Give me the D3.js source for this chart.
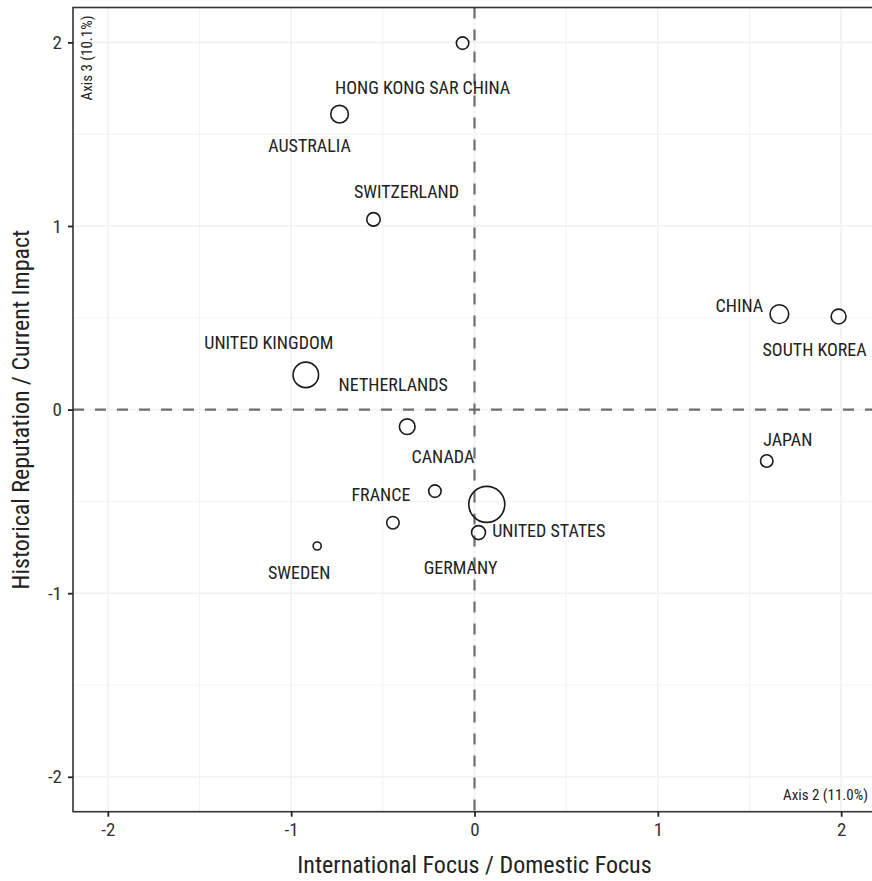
<!DOCTYPE html>
<html>
<head>
<meta charset="utf-8">
<script src="https://cdn.jsdelivr.net/npm/d3@7"></script>
<style>
  body { margin: 0; background: #fff; }
  svg text { font-family: "Roboto Condensed", "Liberation Sans Narrow", "DejaVu Sans Condensed", sans-serif; }
</style>
</head>
<body>
<script>
// country scores on axis 2 / axis 3 and marker weight
var countries = ["HONG KONG SAR CHINA", "AUSTRALIA", "SWITZERLAND", "CHINA", "SOUTH KOREA",
  "UNITED KINGDOM", "NETHERLANDS", "JAPAN", "CANADA", "FRANCE", "UNITED STATES", "GERMANY", "SWEDEN"];
var axis2 = [-0.065, -0.736, -0.551, 1.663, 1.986, -0.920, -0.367, 1.594, -0.216, -0.445, 0.067, 0.022, -0.858];
var axis3 = [1.996, 1.609, 1.036, 0.520, 0.507, 0.189, -0.093, -0.280, -0.444, -0.616, -0.516, -0.670, -0.743];
var weight = [12, 24, 14, 27, 17, 50, 19, 12, 12, 12, 100, 15, 5];
var ticks = [-2, -1, 0, 1, 2];
var gridMinor = [-1.5, -0.5, 0.5, 1.5];

// label nudges in px (dx, dy to baseline)
var nudge = [[-40, 51], [-30, 38], [33, -21], [-40, -2], [-24, 39], [-37, -26],
  [-14, -36], [21, -15], [8, -28], [-12, -22], [62, 33], [-18, 41], [-18, 33]];

var W = 872, H = 881;
var svg = d3.select("body").append("svg").attr("width", W).attr("height", H);

var x = d3.scaleLinear().domain([-2.19, 2.19]).range([73, 876]);
var y = d3.scaleLinear().domain([-2.19, 2.19]).range([811.7, 7.5]);
var r = d3.scaleSqrt().domain([0, 100]).range([0, 18]);

// grid
var grid = svg.append("g");
grid.selectAll(".gx").data(gridMinor.concat(ticks)).enter().append("line")
  .attr("x1", d => x(d)).attr("x2", d => x(d)).attr("y1", y(-2.19)).attr("y2", y(2.19))
  .attr("stroke", "#f1f1f1").attr("stroke-width", d => Number.isInteger(d) ? 1.6 : 0.9);
grid.selectAll(".gy").data(gridMinor.concat(ticks)).enter().append("line")
  .attr("y1", d => y(d)).attr("y2", d => y(d)).attr("x1", x(-2.19)).attr("x2", x(2.19))
  .attr("stroke", "#f1f1f1").attr("stroke-width", d => Number.isInteger(d) ? 1.6 : 0.9);

// reference lines at zero
svg.append("line").attr("x1", x(0)).attr("x2", x(0)).attr("y1", y(2.19)).attr("y2", y(-2.19))
  .attr("stroke", "#6e6e6e").attr("stroke-width", 2.2).attr("stroke-dasharray", "11,11");
svg.append("line").attr("y1", y(0)).attr("y2", y(0)).attr("x1", x(-2.19)).attr("x2", x(2.19))
  .attr("stroke", "#6e6e6e").attr("stroke-width", 2.2).attr("stroke-dasharray", "11,11");

// points
var idx = d3.range(countries.length);
svg.append("g").selectAll("circle").data(idx).enter().append("circle")
  .attr("cx", i => x(axis2[i])).attr("cy", i => y(axis3[i])).attr("r", i => r(weight[i]))
  .attr("fill", "none").attr("stroke", "#1a1a1a").attr("stroke-width", 1.6);

// labels
svg.append("g").selectAll("text").data(idx).enter().append("text")
  .attr("x", i => x(axis2[i]) + nudge[i][0]).attr("y", i => y(axis3[i]) + nudge[i][1])
  .attr("text-anchor", "middle").attr("font-size", 18).attr("fill", "#222")
  .text(i => countries[i]);

// panel border
svg.append("rect").attr("x", x(-2.19)).attr("y", y(2.19))
  .attr("width", x(2.19) - x(-2.19)).attr("height", y(-2.19) - y(2.19))
  .attr("fill", "none").attr("stroke", "#333").attr("stroke-width", 1.6);

// axes
var xAxis = svg.append("g").attr("transform", "translate(0," + y(-2.19) + ")")
  .call(d3.axisBottom(x).tickValues(ticks).tickSize(5).tickPadding(6).tickFormat(d => String(d)));
var yAxis = svg.append("g").attr("transform", "translate(" + x(-2.19) + ",0)")
  .call(d3.axisLeft(y).tickValues(ticks).tickSize(5).tickPadding(6).tickFormat(d => String(d)));
[xAxis, yAxis].forEach(function (g) {
  g.select(".domain").remove();
  g.selectAll(".tick line").attr("stroke", "#222").attr("stroke-width", 1.8);
  g.selectAll(".tick text").attr("font-size", 19).attr("fill", "#333")
    .style("font-family", '"Roboto Condensed", "Liberation Sans Narrow", "DejaVu Sans Condensed", sans-serif');
});

// titles
svg.append("text").attr("x", (x(-2.19) + x(2.19)) / 2).attr("y", 873)
  .attr("text-anchor", "middle").attr("font-size", 24).attr("fill", "#222")
  .text("International Focus / Domestic Focus");
svg.append("text").attr("transform", "translate(29," + (y(-2.19) + y(2.19)) / 2 + ") rotate(-90)")
  .attr("text-anchor", "middle").attr("font-size", 24).attr("fill", "#222")
  .text("Historical Reputation / Current Impact");

// axis inertia annotations
svg.append("text").attr("transform", "translate(92," + (y(2.19) + 8) + ") rotate(-90)")
  .attr("text-anchor", "end").attr("font-size", 15).attr("fill", "#222")
  .text("Axis 3 (10.1%)");
svg.append("text").attr("x", 868).attr("y", 800)
  .attr("text-anchor", "end").attr("font-size", 15).attr("fill", "#222")
  .text("Axis 2 (11.0%)");
</script>
</body>
</html>
